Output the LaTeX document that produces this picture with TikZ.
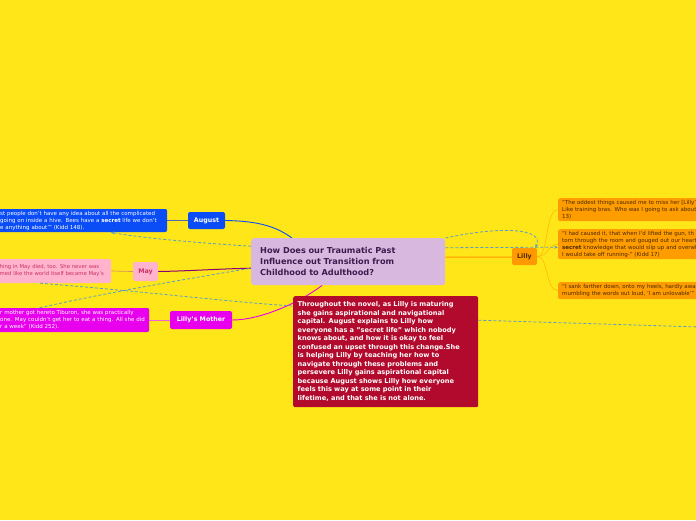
\documentclass[tikz,border=0pt]{standalone}
\usepackage{fontspec}
\setmainfont{DejaVu Sans}
\usetikzlibrary{positioning, arrows.meta, calc, backgrounds}
\definecolor{mapyellow}{HTML}{FFE619}
\definecolor{hublilac}{HTML}{D9B8E0}
\definecolor{hubink}{HTML}{3D1B4F}
\definecolor{thesisred}{HTML}{B20A2C}
\definecolor{augblue}{HTML}{0A4CF5}
\definecolor{maypink}{HTML}{FFB3CC}
\definecolor{mayink}{HTML}{C8306A}
\definecolor{momviolet}{HTML}{E800EE}
\definecolor{lillyorange}{HTML}{FF9900}
\definecolor{quoteorange}{HTML}{FF9C00}
\definecolor{quoteink}{HTML}{4A2A00}
\definecolor{relblue}{HTML}{5A9EC4}

\begin{document}
\begin{tikzpicture}[x=1pt, y=-1pt,
    every node/.style={font=\fontsize{5.5}{7}\selectfont},
    topic/.style={rounded corners=2pt, inner sep=0pt, font=\fontsize{6.3}{7}\selectfont\bfseries},
    quote/.style={rounded corners=2pt, align=left, inner xsep=4pt, inner ysep=0pt},
    rel/.style={draw=relblue, dash pattern=on 3pt off 2pt, line width=0.8pt},
  ]
  \useasboundingbox (0,0) rectangle (696,520);
  \clip (0,0) rectangle (696,520);

  % central question and thesis
  \node[rounded corners=3pt, fill=hublilac, text=hubink, anchor=north west,
        text width=176, inner xsep=9, minimum height=47, align=left,
        font=\fontsize{8.2}{11}\selectfont\bfseries] (hub) at (251,238)
    {How Does our Traumatic Past\\Influence out Transition from\\Childhood to Adulthood?};
  \node[rounded corners=2pt, fill=thesisred, text=white, anchor=north west,
        text width=176, inner xsep=4.5, minimum height=111, align=left,
        font=\fontsize{6.6}{8.5}\selectfont\bfseries] (thesis) at (293,296)
    {Throughout the novel, as Lilly is maturing\\
     she gains aspirational and navigational\\
     capital. August explains to Lilly how\\
     everyone has a "secret life" which nobody\\
     knows about, and how it is okay to feel\\
     confused an upset through this change.She\\
     is helping Lilly by teaching her how to\\
     navigate through these problems and\\
     persevere Lilly gains aspirational capital\\
     because August shows Lilly how everyone\\
     feels this way at some point in their\\
     lifetime, and that she is not alone.};

  % left branches
  \node[topic, fill=augblue, text=white, minimum width=37, minimum height=17] (august) at (206.5,220.5) {August};
  \node[quote, fill=augblue, text=white, anchor=west, text width=163, minimum height=23] (augquote) at (-4,220.5)
    {st people don't have any idea about all the complicated\\
     going on inside a hive. Bees have a \textbf{secret} life we don't\\
     e anything about'" (Kidd 148).};
  \node[topic, fill=maypink, text=mayink, minimum width=25, minimum height=19] (may) at (145.5,271.5) {May};
  \node[quote, fill=maypink, text=mayink, anchor=west, inner xsep=2.5pt, text width=109, minimum height=24,
        font=\fontsize{5.3}{7}\selectfont] (mayquote) at (-3,271)
    {hing in May died, too. She never was\\
     med like the world itself became May's};
  \node[topic, fill=momviolet, text=white, minimum width=62, minimum height=18] (mother) at (201,320) {Lilly's Mother};
  \node[quote, fill=momviolet, text=white, anchor=west, text width=145, minimum height=24] (momquote) at (-4,320)
    {r mother got hereto Tiburon, she was practically\\
     one. May couldn't get her to eat a thing. All she did\\
     r a week" (Kidd 252).};

  % right branch
  \node[topic, fill=lillyorange, text=quoteink, minimum width=25, minimum height=17] (lilly) at (524.5,256.5) {Lilly};
  \node[quote, fill=quoteorange, text=quoteink, anchor=north west, text width=200, minimum height=23] (lquoteA) at (558,198)
    {“The oddest things caused me to miss her [Lilly'\\
     Like training bras. Who was I going to ask about\\
     13)};
  \node[quote, fill=quoteorange, text=quoteink, anchor=north west, text width=200, minimum height=30] (lquoteB) at (558,229)
    {“I had caused it, that when I'd lifted the gun, th\\
     torn through the room and gouged out our heart\\
     \textbf{secret} knowledge that would slip up and overwh\\
     I would take off running-" (Kidd 17)};
  \node[quote, fill=quoteorange, text=quoteink, anchor=north west, text width=200, minimum height=17] (lquoteC) at (558,282)
    {“I sank farther down, onto my heels, hardly awa\\
     mumbling the words out loud, 'I am unlovable'"};
  \coordinate (offright) at (700,327);

  % branch lines
  \begin{scope}[on background layer]
    \fill[mapyellow] (0,0) rectangle (696,520);
    \draw[augblue, line width=0.9pt] (august.east) .. controls (262,221) and (278,228) .. ([xshift=41pt]hub.north west);
    \draw[draw=augblue!40!gray, line width=0.7pt] (augquote.east) -- (august.west);
    \draw[draw=violet!80!purple, line width=1pt] ([yshift=-6.5pt]hub.west) .. controls (215,269) and (190,271) .. (may.east);
    \draw[draw=brown!70!pink, line width=0.7pt] (mayquote.east) -- (may.west);
    \draw[momviolet, line width=0.9pt] ([xshift=71pt]hub.south west) .. controls (302,301) and (262,320) .. (mother.east);
    \draw[draw=momviolet!50!pink, line width=0.7pt] (momquote.east) -- (mother.west);
    \draw[lillyorange, line width=1pt] ([yshift=4.5pt]hub.east) -- ([yshift=-0.5pt]lilly.west);
    \draw[draw=orange!60!yellow, line width=0.5pt] (lilly.east) .. controls (549,257) and (545,209) .. (lquoteA.west);
    \draw[draw=orange!60!yellow, line width=0.5pt] (lilly.east) .. controls (548,257) and (548,244) .. (lquoteB.west);
    \draw[draw=orange!60!yellow, line width=0.5pt] (lilly.east) .. controls (549,257) and (545,290) .. (lquoteC.west);
  \end{scope}

  % relationship lines
  \draw[rel, -{Stealth[length=4pt]}] (hub.north east) .. controls (500,226) and (545,228) .. ([xshift=-2pt]lilly.north east);
  \draw[rel, -{Stealth[length=4pt]}] ([yshift=14pt]hub.east) -- ([yshift=-3pt]lquoteB.west);
  \draw[rel, -{Stealth[length=4pt]}] ([yshift=15.5pt]hub.west) .. controls (200,243) and (140,238) .. ([xshift=29pt]augquote.south);
  \draw[rel] ([xshift=-14pt]mayquote.south) .. controls (150,292) and (230,302) .. ([yshift=-10pt]thesis.north west);
  \draw[rel] ([xshift=-33pt]momquote.north) .. controls (100,294) and (180,280) .. ([yshift=-6.5pt]hub.west);
  \draw[rel] ([yshift=31.5pt]thesis.east) -- (offright);
\end{tikzpicture}
\end{document}
